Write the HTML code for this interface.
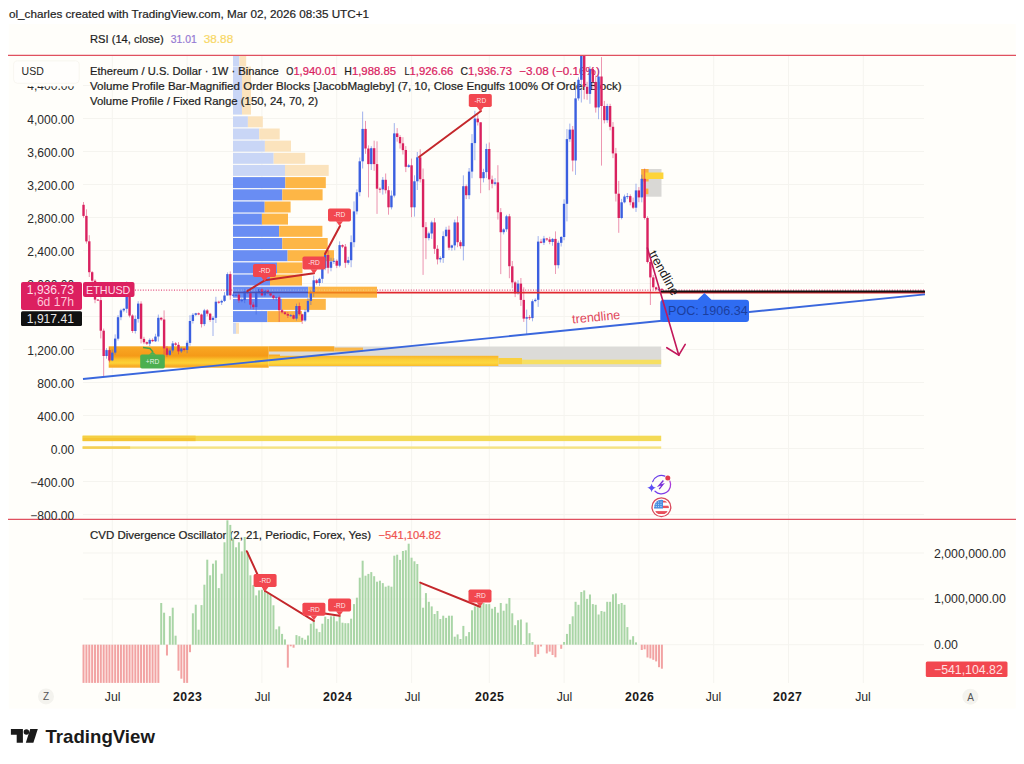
<!DOCTYPE html>
<html><head><meta charset="utf-8"><title>ETHUSD chart</title>
<style>
html,body{margin:0;padding:0;background:#fff;}
body{width:1024px;height:764px;position:relative;overflow:hidden;font-family:"Liberation Sans",sans-serif;}
svg{position:absolute;left:0;top:0;}
svg text{font-family:"Liberation Sans",sans-serif;}
</style></head><body>
<svg width="1024" height="764" viewBox="0 0 1024 764">
<rect x="8.7" y="24" width="1007" height="684.5" fill="#fffefa"/>
<!-- header -->
<text x="9" y="18.4" font-size="11.4" fill="#1e1e1e" stroke="#1e1e1e" stroke-width="0.2" textLength="360" lengthAdjust="spacingAndGlyphs">ol_charles created with TradingView.com, Mar 02, 2026 08:35 UTC+1</text>
<!-- main pane -->
<clipPath id="mp"><rect x="83" y="56" width="842" height="463"/></clipPath>
<g id="gridandvp">
<line x1="112.3" y1="56" x2="112.3" y2="683" stroke="#f5f4ef" stroke-width="1"/>
<line x1="187.1" y1="56" x2="187.1" y2="683" stroke="#f5f4ef" stroke-width="1"/>
<line x1="261.9" y1="56" x2="261.9" y2="683" stroke="#f5f4ef" stroke-width="1"/>
<line x1="336.7" y1="56" x2="336.7" y2="683" stroke="#f5f4ef" stroke-width="1"/>
<line x1="411.6" y1="56" x2="411.6" y2="683" stroke="#f5f4ef" stroke-width="1"/>
<line x1="489.3" y1="56" x2="489.3" y2="683" stroke="#f5f4ef" stroke-width="1"/>
<line x1="564.1" y1="56" x2="564.1" y2="683" stroke="#f5f4ef" stroke-width="1"/>
<line x1="638.9" y1="56" x2="638.9" y2="683" stroke="#f5f4ef" stroke-width="1"/>
<line x1="713.7" y1="56" x2="713.7" y2="683" stroke="#f5f4ef" stroke-width="1"/>
<line x1="788.5" y1="56" x2="788.5" y2="683" stroke="#f5f4ef" stroke-width="1"/>
<line x1="863.3" y1="56" x2="863.3" y2="683" stroke="#f5f4ef" stroke-width="1"/>
<line x1="83" y1="85.5" x2="924" y2="85.5" stroke="#f5f4ef" stroke-width="1"/>
<line x1="83" y1="118.5" x2="924" y2="118.5" stroke="#f5f4ef" stroke-width="1"/>
<line x1="83" y1="151.5" x2="924" y2="151.5" stroke="#f5f4ef" stroke-width="1"/>
<line x1="83" y1="184.5" x2="924" y2="184.5" stroke="#f5f4ef" stroke-width="1"/>
<line x1="83" y1="217.5" x2="924" y2="217.5" stroke="#f5f4ef" stroke-width="1"/>
<line x1="83" y1="250.5" x2="924" y2="250.5" stroke="#f5f4ef" stroke-width="1"/>
<line x1="83" y1="283.5" x2="924" y2="283.5" stroke="#f5f4ef" stroke-width="1"/>
<line x1="83" y1="316.5" x2="924" y2="316.5" stroke="#f5f4ef" stroke-width="1"/>
<line x1="83" y1="349.5" x2="924" y2="349.5" stroke="#f5f4ef" stroke-width="1"/>
<line x1="83" y1="382.5" x2="924" y2="382.5" stroke="#f5f4ef" stroke-width="1"/>
<line x1="83" y1="415.5" x2="924" y2="415.5" stroke="#f5f4ef" stroke-width="1"/>
<line x1="83" y1="448.5" x2="924" y2="448.5" stroke="#f5f4ef" stroke-width="1"/>
<line x1="83" y1="481.5" x2="924" y2="481.5" stroke="#f5f4ef" stroke-width="1"/>
<line x1="83" y1="514.5" x2="924" y2="514.5" stroke="#f5f4ef" stroke-width="1"/>
<line x1="83" y1="553" x2="924" y2="553" stroke="#f5f4ef" stroke-width="1"/>
<line x1="83" y1="599" x2="924" y2="599" stroke="#f5f4ef" stroke-width="1"/>
<line x1="83" y1="644.7" x2="924" y2="644.7" stroke="#f5f4ef" stroke-width="1"/>
<rect x="233" y="56" width="6.4" height="10.2" fill="#c9d6f6"/>
<rect x="239.4" y="56" width="6.8" height="10.2" fill="#fbe3bd"/>
<rect x="233" y="116.3" width="14.9" height="11" fill="#c9d6f6"/>
<rect x="247.9" y="116.3" width="14.9" height="11" fill="#fbe3bd"/>
<rect x="233" y="128.5" width="26.2" height="11" fill="#c9d6f6"/>
<rect x="259.2" y="128.5" width="20.5" height="11" fill="#fbe3bd"/>
<rect x="233" y="140.6" width="31.9" height="11" fill="#c9d6f6"/>
<rect x="264.9" y="140.6" width="26.1" height="11" fill="#fbe3bd"/>
<rect x="233" y="152.8" width="40.7" height="11" fill="#c9d6f6"/>
<rect x="273.7" y="152.8" width="31.5" height="11" fill="#fbe3bd"/>
<rect x="233" y="164.9" width="52.0" height="11" fill="#c9d6f6"/>
<rect x="285.0" y="164.9" width="43.7" height="11" fill="#fbe3bd"/>
<rect x="233" y="177.1" width="52.3" height="11" fill="#698df3"/>
<rect x="285.3" y="177.1" width="40.5" height="11" fill="#fdb646"/>
<rect x="233" y="189.3" width="49.3" height="11" fill="#698df3"/>
<rect x="282.3" y="189.3" width="40.3" height="11" fill="#fdb646"/>
<rect x="233" y="201.5" width="31.7" height="11" fill="#698df3"/>
<rect x="264.7" y="201.5" width="25.9" height="11" fill="#fdb646"/>
<rect x="233" y="213.6" width="28.9" height="11" fill="#698df3"/>
<rect x="261.9" y="213.6" width="26.1" height="11" fill="#fdb646"/>
<rect x="233" y="225.8" width="46.1" height="11" fill="#698df3"/>
<rect x="279.1" y="225.8" width="43.3" height="11" fill="#fdb646"/>
<rect x="233" y="238.0" width="49.3" height="11" fill="#698df3"/>
<rect x="282.3" y="238.0" width="45.4" height="11" fill="#fdb646"/>
<rect x="233" y="250.2" width="54.6" height="11" fill="#698df3"/>
<rect x="287.6" y="250.2" width="46.4" height="11" fill="#fdb646"/>
<rect x="233" y="262.4" width="44.0" height="11" fill="#698df3"/>
<rect x="277.0" y="262.4" width="25.5" height="11" fill="#fdb646"/>
<rect x="233" y="274.5" width="37.0" height="11" fill="#698df3"/>
<rect x="270.0" y="274.5" width="32.0" height="11" fill="#fdb646"/>
<rect x="233" y="286.7" width="75.2" height="11" fill="#698df3"/>
<rect x="308.2" y="286.7" width="68.8" height="11" fill="#fdb646"/>
<rect x="233" y="298.9" width="48.9" height="11" fill="#698df3"/>
<rect x="281.9" y="298.9" width="43.9" height="11" fill="#fdb646"/>
<rect x="233" y="311.1" width="34.4" height="11" fill="#698df3"/>
<rect x="267.4" y="311.1" width="34.6" height="11" fill="#fdb646"/>
<rect x="233" y="66.6" width="9" height="48" fill="#c9d6f6"/><rect x="242" y="66.6" width="9" height="48" fill="#fbe3bd"/>
<rect x="233" y="322.8" width="3" height="11" fill="#c9d6f6"/><rect x="236" y="322.8" width="3" height="11" fill="#fbe3bd"/>
<defs><linearGradient id="ob" x1="0" y1="0" x2="0" y2="1"><stop offset="0" stop-color="#f8a926"/><stop offset="0.22" stop-color="#f7a11e"/><stop offset="0.45" stop-color="#f59a18"/><stop offset="0.62" stop-color="#fbc22c"/><stop offset="0.78" stop-color="#fdd236"/><stop offset="0.9" stop-color="#f9b127"/><stop offset="1" stop-color="#f8a926"/></linearGradient><linearGradient id="yb" x1="0" y1="0" x2="0" y2="1"><stop offset="0" stop-color="#f9b52a"/><stop offset="0.4" stop-color="#fbd03a"/><stop offset="0.7" stop-color="#fdd83e"/><stop offset="1" stop-color="#f9bb2c"/></linearGradient></defs>
<rect x="268.7" y="346.5" width="392.5" height="20.5" fill="#dcdbd8"/>
<rect x="108.7" y="346.3" width="160" height="21.4" fill="url(#ob)"/>
<rect x="268.7" y="346.3" width="65.6" height="5.2" fill="#f8a926"/>
<rect x="334.3" y="347.6" width="28.7" height="3.9" fill="#f9b74a"/>
<rect x="268.7" y="354.5" width="11.3" height="4.2" fill="#f8a926"/>
<rect x="268.7" y="355.8" width="229.7" height="10.2" fill="url(#yb)"/>
<rect x="498.4" y="358" width="23.6" height="6.2" fill="#f9d040"/>
<rect x="522" y="359.7" width="139.2" height="4.5" fill="#f6df62"/>
<rect x="82.6" y="435.7" width="578.6" height="5.4" fill="#f4da55"/>
<rect x="82.6" y="437.6" width="113" height="3.5" fill="#f5c535"/>
<rect x="82.6" y="435.7" width="113" height="2" fill="#f5cf44"/>
<rect x="82.6" y="446.4" width="578.6" height="2.4" fill="#f6e384"/>
<rect x="82.6" y="446.4" width="47.5" height="2.4" fill="#f5cf55"/>
<rect x="641.2" y="169" width="20.3" height="27.7" fill="#d9d8d5"/>
<rect x="641.2" y="169" width="7.4" height="12.5" fill="#fbb03b"/>
<rect x="645.4" y="172.5" width="18" height="6.5" fill="#fdd43a"/>
<rect x="645.4" y="188.6" width="3" height="5.6" fill="#fbb03b"/>
</g>
<text x="90" y="43.0" font-size="11.3" fill="#1e1e1e" stroke="#1e1e1e" stroke-width="0.22" textLength="73.7" lengthAdjust="spacingAndGlyphs">RSI (14, close)</text><text x="170.8" y="43.0" font-size="11.3" fill="#9579d3" stroke="#9579d3" stroke-width="0.22" textLength="26.0" lengthAdjust="spacingAndGlyphs">31.01</text><text x="203.8" y="43.0" font-size="11.3" fill="#f8d866" stroke="#f8d866" stroke-width="0.22" textLength="29.4" lengthAdjust="spacingAndGlyphs">38.88</text><text x="90" y="74.5" font-size="11.3" fill="#1e1e1e" stroke="#1e1e1e" stroke-width="0.22" textLength="188.7" lengthAdjust="spacingAndGlyphs">Ethereum / U.S. Dollar · 1W · Binance</text><text x="286.3" y="74.5" font-size="11.3" fill="#1e1e1e" stroke="#1e1e1e" stroke-width="0.22" textLength="7.1" lengthAdjust="spacingAndGlyphs">O</text><text x="293.4" y="74.5" font-size="11.3" fill="#d9215f" stroke="#d9215f" stroke-width="0.22" textLength="43.6" lengthAdjust="spacingAndGlyphs">1,940.01</text><text x="344.2" y="74.5" font-size="11.3" fill="#1e1e1e" stroke="#1e1e1e" stroke-width="0.22" textLength="7.6" lengthAdjust="spacingAndGlyphs">H</text><text x="351.9" y="74.5" font-size="11.3" fill="#d9215f" stroke="#d9215f" stroke-width="0.22" textLength="44.2" lengthAdjust="spacingAndGlyphs">1,988.85</text><text x="404.4" y="74.5" font-size="11.3" fill="#1e1e1e" stroke="#1e1e1e" stroke-width="0.22" textLength="5.1" lengthAdjust="spacingAndGlyphs">L</text><text x="409.5" y="74.5" font-size="11.3" fill="#d9215f" stroke="#d9215f" stroke-width="0.22" textLength="43.9" lengthAdjust="spacingAndGlyphs">1,926.66</text><text x="460.6" y="74.5" font-size="11.3" fill="#1e1e1e" stroke="#1e1e1e" stroke-width="0.22" textLength="7.5" lengthAdjust="spacingAndGlyphs">C</text><text x="468.1" y="74.5" font-size="11.3" fill="#d9215f" stroke="#d9215f" stroke-width="0.22" textLength="43.9" lengthAdjust="spacingAndGlyphs">1,936.73</text><text x="519.2" y="74.5" font-size="11.3" fill="#d9215f" stroke="#d9215f" stroke-width="0.22" textLength="80.6" lengthAdjust="spacingAndGlyphs">−3.08 (−0.16%)</text><text x="90" y="89.6" font-size="11.3" fill="#1e1e1e" stroke="#1e1e1e" stroke-width="0.22" textLength="531.6" lengthAdjust="spacingAndGlyphs">Volume Profile Bar-Magnified Order Blocks [JacobMagleby] (7, 10, Close Engulfs 100% Of Order Block)</text><text x="90" y="105.2" font-size="11.3" fill="#1e1e1e" stroke="#1e1e1e" stroke-width="0.22" textLength="228.1" lengthAdjust="spacingAndGlyphs">Volume Profile / Fixed Range (150, 24, 70, 2)</text><text x="90" y="538.6" font-size="11.3" fill="#1e1e1e" stroke="#1e1e1e" stroke-width="0.22" textLength="281.0" lengthAdjust="spacingAndGlyphs">CVD Divergence Oscillator (2, 21, Periodic, Forex, Yes)</text><text x="378.5" y="538.6" font-size="11.3" fill="#ef5350" stroke="#ef5350" stroke-width="0.22" textLength="62.5" lengthAdjust="spacingAndGlyphs">−541,104.82</text>
<g id="candles">
<line x1="83.53" y1="202.0" x2="83.53" y2="217.7" stroke="#d9215f" stroke-width="0.8" opacity="0.6"/>
<rect x="82.33" y="204.8" width="2.4" height="11.1" fill="#d9215f"/>
<line x1="86.40" y1="209.3" x2="86.40" y2="243.6" stroke="#d9215f" stroke-width="0.8" opacity="0.6"/>
<rect x="85.20" y="215.9" width="2.4" height="25.5" fill="#d9215f"/>
<line x1="89.28" y1="235.2" x2="89.28" y2="277.0" stroke="#d9215f" stroke-width="0.8" opacity="0.6"/>
<rect x="88.08" y="241.3" width="2.4" height="30.9" fill="#d9215f"/>
<line x1="92.16" y1="271.1" x2="92.16" y2="283.4" stroke="#d9215f" stroke-width="0.8" opacity="0.6"/>
<rect x="90.96" y="272.2" width="2.4" height="8.5" fill="#d9215f"/>
<line x1="95.03" y1="279.3" x2="95.03" y2="303.2" stroke="#d9215f" stroke-width="0.8" opacity="0.6"/>
<rect x="93.83" y="280.7" width="2.4" height="18.9" fill="#d9215f"/>
<line x1="97.91" y1="299.0" x2="97.91" y2="300.7" stroke="#d9215f" stroke-width="0.8" opacity="0.6"/>
<rect x="96.71" y="299.6" width="2.4" height="1.0" fill="#d9215f"/>
<line x1="100.79" y1="295.3" x2="100.79" y2="338.4" stroke="#d9215f" stroke-width="0.8" opacity="0.6"/>
<rect x="99.59" y="300.1" width="2.4" height="30.6" fill="#d9215f"/>
<line x1="103.67" y1="328.6" x2="103.67" y2="376.4" stroke="#d9215f" stroke-width="0.8" opacity="0.6"/>
<rect x="102.47" y="330.7" width="2.4" height="25.3" fill="#d9215f"/>
<line x1="106.55" y1="348.1" x2="106.55" y2="358.7" stroke="#3b5fe0" stroke-width="0.8" opacity="0.6"/>
<rect x="105.34" y="350.1" width="2.4" height="5.9" fill="#3b5fe0"/>
<line x1="109.42" y1="347.6" x2="109.42" y2="362.4" stroke="#d9215f" stroke-width="0.8" opacity="0.6"/>
<rect x="108.22" y="350.1" width="2.4" height="10.4" fill="#d9215f"/>
<line x1="112.30" y1="349.5" x2="112.30" y2="361.2" stroke="#3b5fe0" stroke-width="0.8" opacity="0.6"/>
<rect x="111.10" y="352.6" width="2.4" height="7.8" fill="#3b5fe0"/>
<line x1="115.18" y1="334.4" x2="115.18" y2="354.6" stroke="#3b5fe0" stroke-width="0.8" opacity="0.6"/>
<rect x="113.98" y="338.6" width="2.4" height="14.0" fill="#3b5fe0"/>
<line x1="118.05" y1="315.1" x2="118.05" y2="340.5" stroke="#3b5fe0" stroke-width="0.8" opacity="0.6"/>
<rect x="116.85" y="317.2" width="2.4" height="21.5" fill="#3b5fe0"/>
<line x1="120.93" y1="308.8" x2="120.93" y2="320.2" stroke="#3b5fe0" stroke-width="0.8" opacity="0.6"/>
<rect x="119.73" y="310.4" width="2.4" height="6.8" fill="#3b5fe0"/>
<line x1="123.81" y1="307.9" x2="123.81" y2="312.1" stroke="#3b5fe0" stroke-width="0.8" opacity="0.6"/>
<rect x="122.61" y="308.8" width="2.4" height="1.6" fill="#3b5fe0"/>
<line x1="126.69" y1="281.5" x2="126.69" y2="312.9" stroke="#3b5fe0" stroke-width="0.8" opacity="0.6"/>
<rect x="125.49" y="289.4" width="2.4" height="19.4" fill="#3b5fe0"/>
<line x1="129.56" y1="284.2" x2="129.56" y2="317.4" stroke="#d9215f" stroke-width="0.8" opacity="0.6"/>
<rect x="128.37" y="289.4" width="2.4" height="26.2" fill="#d9215f"/>
<line x1="132.44" y1="314.3" x2="132.44" y2="332.9" stroke="#d9215f" stroke-width="0.8" opacity="0.6"/>
<rect x="131.24" y="315.5" width="2.4" height="15.5" fill="#d9215f"/>
<line x1="135.32" y1="315.4" x2="135.32" y2="333.5" stroke="#3b5fe0" stroke-width="0.8" opacity="0.6"/>
<rect x="134.12" y="318.9" width="2.4" height="12.1" fill="#3b5fe0"/>
<line x1="138.20" y1="301.2" x2="138.20" y2="322.6" stroke="#3b5fe0" stroke-width="0.8" opacity="0.6"/>
<rect x="137.00" y="303.6" width="2.4" height="15.3" fill="#3b5fe0"/>
<line x1="141.07" y1="301.3" x2="141.07" y2="343.4" stroke="#d9215f" stroke-width="0.8" opacity="0.6"/>
<rect x="139.88" y="303.6" width="2.4" height="35.2" fill="#d9215f"/>
<line x1="143.95" y1="336.8" x2="143.95" y2="344.1" stroke="#d9215f" stroke-width="0.8" opacity="0.6"/>
<rect x="142.75" y="338.9" width="2.4" height="3.4" fill="#d9215f"/>
<line x1="146.83" y1="341.5" x2="146.83" y2="345.0" stroke="#d9215f" stroke-width="0.8" opacity="0.6"/>
<rect x="145.63" y="342.2" width="2.4" height="1.5" fill="#d9215f"/>
<line x1="149.71" y1="338.4" x2="149.71" y2="346.0" stroke="#3b5fe0" stroke-width="0.8" opacity="0.6"/>
<rect x="148.51" y="339.9" width="2.4" height="3.8" fill="#3b5fe0"/>
<line x1="152.58" y1="338.4" x2="152.58" y2="342.1" stroke="#d9215f" stroke-width="0.8" opacity="0.6"/>
<rect x="151.38" y="339.9" width="2.4" height="1.3" fill="#d9215f"/>
<line x1="155.46" y1="333.8" x2="155.46" y2="342.0" stroke="#3b5fe0" stroke-width="0.8" opacity="0.6"/>
<rect x="154.26" y="336.6" width="2.4" height="4.7" fill="#3b5fe0"/>
<line x1="158.34" y1="314.6" x2="158.34" y2="341.5" stroke="#3b5fe0" stroke-width="0.8" opacity="0.6"/>
<rect x="157.14" y="317.8" width="2.4" height="18.7" fill="#3b5fe0"/>
<line x1="161.22" y1="317.1" x2="161.22" y2="320.9" stroke="#d9215f" stroke-width="0.8" opacity="0.6"/>
<rect x="160.02" y="317.8" width="2.4" height="1.7" fill="#d9215f"/>
<line x1="164.09" y1="310.4" x2="164.09" y2="360.7" stroke="#d9215f" stroke-width="0.8" opacity="0.6"/>
<rect x="162.90" y="319.5" width="2.4" height="28.9" fill="#d9215f"/>
<line x1="166.97" y1="346.0" x2="166.97" y2="356.7" stroke="#d9215f" stroke-width="0.8" opacity="0.6"/>
<rect x="165.77" y="348.4" width="2.4" height="6.4" fill="#d9215f"/>
<line x1="169.85" y1="348.3" x2="169.85" y2="355.9" stroke="#3b5fe0" stroke-width="0.8" opacity="0.6"/>
<rect x="168.65" y="350.5" width="2.4" height="4.3" fill="#3b5fe0"/>
<line x1="172.73" y1="341.0" x2="172.73" y2="352.6" stroke="#3b5fe0" stroke-width="0.8" opacity="0.6"/>
<rect x="171.53" y="343.4" width="2.4" height="7.1" fill="#3b5fe0"/>
<line x1="175.60" y1="342.1" x2="175.60" y2="345.9" stroke="#d9215f" stroke-width="0.8" opacity="0.6"/>
<rect x="174.41" y="343.4" width="2.4" height="1.4" fill="#d9215f"/>
<line x1="178.48" y1="342.1" x2="178.48" y2="354.3" stroke="#d9215f" stroke-width="0.8" opacity="0.6"/>
<rect x="177.28" y="344.8" width="2.4" height="6.6" fill="#d9215f"/>
<line x1="181.36" y1="347.3" x2="181.36" y2="353.0" stroke="#3b5fe0" stroke-width="0.8" opacity="0.6"/>
<rect x="180.16" y="348.5" width="2.4" height="2.9" fill="#3b5fe0"/>
<line x1="184.24" y1="348.1" x2="184.24" y2="351.4" stroke="#d9215f" stroke-width="0.8" opacity="0.6"/>
<rect x="183.04" y="348.5" width="2.4" height="1.5" fill="#d9215f"/>
<line x1="187.12" y1="340.5" x2="187.12" y2="353.2" stroke="#3b5fe0" stroke-width="0.8" opacity="0.6"/>
<rect x="185.92" y="342.8" width="2.4" height="7.2" fill="#3b5fe0"/>
<line x1="189.99" y1="315.2" x2="189.99" y2="345.6" stroke="#3b5fe0" stroke-width="0.8" opacity="0.6"/>
<rect x="188.79" y="321.0" width="2.4" height="21.9" fill="#3b5fe0"/>
<line x1="192.87" y1="313.1" x2="192.87" y2="323.5" stroke="#3b5fe0" stroke-width="0.8" opacity="0.6"/>
<rect x="191.67" y="314.8" width="2.4" height="6.2" fill="#3b5fe0"/>
<line x1="195.75" y1="312.8" x2="195.75" y2="316.1" stroke="#3b5fe0" stroke-width="0.8" opacity="0.6"/>
<rect x="194.55" y="313.3" width="2.4" height="1.5" fill="#3b5fe0"/>
<line x1="198.62" y1="312.5" x2="198.62" y2="315.2" stroke="#d9215f" stroke-width="0.8" opacity="0.6"/>
<rect x="197.43" y="313.3" width="2.4" height="1.2" fill="#d9215f"/>
<line x1="201.50" y1="313.6" x2="201.50" y2="327.5" stroke="#d9215f" stroke-width="0.8" opacity="0.6"/>
<rect x="200.30" y="314.5" width="2.4" height="9.6" fill="#d9215f"/>
<line x1="204.38" y1="308.9" x2="204.38" y2="326.1" stroke="#3b5fe0" stroke-width="0.8" opacity="0.6"/>
<rect x="203.18" y="310.4" width="2.4" height="13.7" fill="#3b5fe0"/>
<line x1="207.26" y1="309.0" x2="207.26" y2="316.3" stroke="#d9215f" stroke-width="0.8" opacity="0.6"/>
<rect x="206.06" y="310.4" width="2.4" height="3.3" fill="#d9215f"/>
<line x1="210.13" y1="312.8" x2="210.13" y2="321.9" stroke="#d9215f" stroke-width="0.8" opacity="0.6"/>
<rect x="208.94" y="313.7" width="2.4" height="6.3" fill="#d9215f"/>
<line x1="213.01" y1="316.2" x2="213.01" y2="336.0" stroke="#3b5fe0" stroke-width="0.8" opacity="0.6"/>
<rect x="211.81" y="317.8" width="2.4" height="2.1" fill="#3b5fe0"/>
<line x1="215.89" y1="296.8" x2="215.89" y2="323.0" stroke="#3b5fe0" stroke-width="0.8" opacity="0.6"/>
<rect x="214.69" y="301.7" width="2.4" height="16.1" fill="#3b5fe0"/>
<line x1="218.77" y1="300.7" x2="218.77" y2="303.8" stroke="#d9215f" stroke-width="0.8" opacity="0.6"/>
<rect x="217.57" y="301.7" width="2.4" height="1.0" fill="#d9215f"/>
<line x1="221.64" y1="299.7" x2="221.64" y2="305.0" stroke="#3b5fe0" stroke-width="0.8" opacity="0.6"/>
<rect x="220.44" y="300.9" width="2.4" height="1.6" fill="#3b5fe0"/>
<line x1="224.52" y1="292.1" x2="224.52" y2="302.0" stroke="#3b5fe0" stroke-width="0.8" opacity="0.6"/>
<rect x="223.32" y="295.5" width="2.4" height="5.4" fill="#3b5fe0"/>
<line x1="227.40" y1="272.4" x2="227.40" y2="295.5" stroke="#3b5fe0" stroke-width="0.8" opacity="0.6"/>
<rect x="226.20" y="274.1" width="2.4" height="21.4" fill="#3b5fe0"/>
<line x1="230.28" y1="271.4" x2="230.28" y2="299.7" stroke="#d9215f" stroke-width="0.8" opacity="0.6"/>
<rect x="229.08" y="274.1" width="2.4" height="21.3" fill="#d9215f"/>
<line x1="233.16" y1="293.1" x2="233.16" y2="296.4" stroke="#3b5fe0" stroke-width="0.8" opacity="0.6"/>
<rect x="231.96" y="294.7" width="2.4" height="1.0" fill="#3b5fe0"/>
<line x1="236.03" y1="294.3" x2="236.03" y2="296.0" stroke="#3b5fe0" stroke-width="0.8" opacity="0.6"/>
<rect x="234.83" y="294.7" width="2.4" height="1.0" fill="#3b5fe0"/>
<line x1="238.91" y1="293.0" x2="238.91" y2="302.9" stroke="#d9215f" stroke-width="0.8" opacity="0.6"/>
<rect x="237.71" y="294.7" width="2.4" height="5.8" fill="#d9215f"/>
<line x1="241.79" y1="297.8" x2="241.79" y2="302.3" stroke="#3b5fe0" stroke-width="0.8" opacity="0.6"/>
<rect x="240.59" y="300.1" width="2.4" height="1.0" fill="#3b5fe0"/>
<line x1="244.67" y1="288.8" x2="244.67" y2="303.1" stroke="#3b5fe0" stroke-width="0.8" opacity="0.6"/>
<rect x="243.47" y="291.4" width="2.4" height="8.7" fill="#3b5fe0"/>
<line x1="247.54" y1="289.4" x2="247.54" y2="293.7" stroke="#d9215f" stroke-width="0.8" opacity="0.6"/>
<rect x="246.34" y="291.4" width="2.4" height="1.7" fill="#d9215f"/>
<line x1="250.42" y1="288.5" x2="250.42" y2="308.7" stroke="#d9215f" stroke-width="0.8" opacity="0.6"/>
<rect x="249.22" y="293.1" width="2.4" height="11.6" fill="#d9215f"/>
<line x1="253.30" y1="302.1" x2="253.30" y2="309.4" stroke="#d9215f" stroke-width="0.8" opacity="0.6"/>
<rect x="252.10" y="304.6" width="2.4" height="2.5" fill="#d9215f"/>
<line x1="256.18" y1="289.8" x2="256.18" y2="314.5" stroke="#3b5fe0" stroke-width="0.8" opacity="0.6"/>
<rect x="254.98" y="292.2" width="2.4" height="14.9" fill="#3b5fe0"/>
<line x1="259.05" y1="288.4" x2="259.05" y2="294.4" stroke="#3b5fe0" stroke-width="0.8" opacity="0.6"/>
<rect x="257.85" y="289.2" width="2.4" height="3.1" fill="#3b5fe0"/>
<line x1="261.93" y1="288.3" x2="261.93" y2="296.3" stroke="#d9215f" stroke-width="0.8" opacity="0.6"/>
<rect x="260.73" y="289.2" width="2.4" height="6.2" fill="#d9215f"/>
<line x1="264.81" y1="289.2" x2="264.81" y2="296.5" stroke="#3b5fe0" stroke-width="0.8" opacity="0.6"/>
<rect x="263.61" y="290.4" width="2.4" height="4.9" fill="#3b5fe0"/>
<line x1="267.69" y1="289.0" x2="267.69" y2="293.9" stroke="#d9215f" stroke-width="0.8" opacity="0.6"/>
<rect x="266.49" y="290.4" width="2.4" height="2.8" fill="#d9215f"/>
<line x1="270.56" y1="292.7" x2="270.56" y2="296.4" stroke="#d9215f" stroke-width="0.8" opacity="0.6"/>
<rect x="269.36" y="293.2" width="2.4" height="2.3" fill="#d9215f"/>
<line x1="273.44" y1="294.8" x2="273.44" y2="299.7" stroke="#d9215f" stroke-width="0.8" opacity="0.6"/>
<rect x="272.24" y="295.5" width="2.4" height="2.7" fill="#d9215f"/>
<line x1="276.32" y1="296.7" x2="276.32" y2="300.6" stroke="#3b5fe0" stroke-width="0.8" opacity="0.6"/>
<rect x="275.12" y="297.2" width="2.4" height="1.1" fill="#3b5fe0"/>
<line x1="279.19" y1="295.5" x2="279.19" y2="321.9" stroke="#d9215f" stroke-width="0.8" opacity="0.6"/>
<rect x="278.00" y="297.2" width="2.4" height="13.0" fill="#d9215f"/>
<line x1="282.07" y1="309.1" x2="282.07" y2="313.5" stroke="#d9215f" stroke-width="0.8" opacity="0.6"/>
<rect x="280.87" y="310.2" width="2.4" height="2.1" fill="#d9215f"/>
<line x1="284.95" y1="311.1" x2="284.95" y2="314.8" stroke="#d9215f" stroke-width="0.8" opacity="0.6"/>
<rect x="283.75" y="312.3" width="2.4" height="1.8" fill="#d9215f"/>
<line x1="287.83" y1="312.0" x2="287.83" y2="318.0" stroke="#d9215f" stroke-width="0.8" opacity="0.6"/>
<rect x="286.63" y="314.1" width="2.4" height="1.5" fill="#d9215f"/>
<line x1="290.70" y1="314.0" x2="290.70" y2="316.8" stroke="#3b5fe0" stroke-width="0.8" opacity="0.6"/>
<rect x="289.50" y="315.2" width="2.4" height="1.0" fill="#3b5fe0"/>
<line x1="293.58" y1="314.5" x2="293.58" y2="319.4" stroke="#d9215f" stroke-width="0.8" opacity="0.6"/>
<rect x="292.38" y="315.2" width="2.4" height="3.5" fill="#d9215f"/>
<line x1="296.46" y1="303.7" x2="296.46" y2="320.6" stroke="#3b5fe0" stroke-width="0.8" opacity="0.6"/>
<rect x="295.26" y="306.0" width="2.4" height="12.6" fill="#3b5fe0"/>
<line x1="299.34" y1="302.6" x2="299.34" y2="315.5" stroke="#d9215f" stroke-width="0.8" opacity="0.6"/>
<rect x="298.14" y="306.0" width="2.4" height="8.2" fill="#d9215f"/>
<line x1="302.21" y1="313.6" x2="302.21" y2="323.9" stroke="#d9215f" stroke-width="0.8" opacity="0.6"/>
<rect x="301.01" y="314.3" width="2.4" height="6.3" fill="#d9215f"/>
<line x1="305.09" y1="309.3" x2="305.09" y2="321.8" stroke="#3b5fe0" stroke-width="0.8" opacity="0.6"/>
<rect x="303.89" y="311.8" width="2.4" height="8.7" fill="#3b5fe0"/>
<line x1="307.97" y1="298.0" x2="307.97" y2="312.8" stroke="#3b5fe0" stroke-width="0.8" opacity="0.6"/>
<rect x="306.77" y="300.9" width="2.4" height="10.9" fill="#3b5fe0"/>
<line x1="310.85" y1="290.3" x2="310.85" y2="305.0" stroke="#3b5fe0" stroke-width="0.8" opacity="0.6"/>
<rect x="309.65" y="292.8" width="2.4" height="8.1" fill="#3b5fe0"/>
<line x1="313.72" y1="275.5" x2="313.72" y2="296.9" stroke="#3b5fe0" stroke-width="0.8" opacity="0.6"/>
<rect x="312.52" y="280.3" width="2.4" height="12.5" fill="#3b5fe0"/>
<line x1="316.60" y1="279.0" x2="316.60" y2="284.6" stroke="#d9215f" stroke-width="0.8" opacity="0.6"/>
<rect x="315.40" y="280.3" width="2.4" height="2.7" fill="#d9215f"/>
<line x1="319.48" y1="277.7" x2="319.48" y2="285.9" stroke="#3b5fe0" stroke-width="0.8" opacity="0.6"/>
<rect x="318.28" y="278.8" width="2.4" height="4.2" fill="#3b5fe0"/>
<line x1="322.36" y1="264.9" x2="322.36" y2="283.0" stroke="#3b5fe0" stroke-width="0.8" opacity="0.6"/>
<rect x="321.16" y="268.1" width="2.4" height="10.7" fill="#3b5fe0"/>
<line x1="325.24" y1="252.3" x2="325.24" y2="270.2" stroke="#3b5fe0" stroke-width="0.8" opacity="0.6"/>
<rect x="324.04" y="255.0" width="2.4" height="13.1" fill="#3b5fe0"/>
<line x1="328.11" y1="250.1" x2="328.11" y2="273.5" stroke="#d9215f" stroke-width="0.8" opacity="0.6"/>
<rect x="326.91" y="255.0" width="2.4" height="12.8" fill="#d9215f"/>
<line x1="330.99" y1="257.8" x2="330.99" y2="271.3" stroke="#3b5fe0" stroke-width="0.8" opacity="0.6"/>
<rect x="329.79" y="261.6" width="2.4" height="6.2" fill="#3b5fe0"/>
<line x1="333.87" y1="258.2" x2="333.87" y2="264.0" stroke="#3b5fe0" stroke-width="0.8" opacity="0.6"/>
<rect x="332.67" y="260.8" width="2.4" height="1.0" fill="#3b5fe0"/>
<line x1="336.75" y1="259.4" x2="336.75" y2="268.1" stroke="#d9215f" stroke-width="0.8" opacity="0.6"/>
<rect x="335.55" y="260.8" width="2.4" height="4.9" fill="#d9215f"/>
<line x1="339.62" y1="241.4" x2="339.62" y2="267.3" stroke="#3b5fe0" stroke-width="0.8" opacity="0.6"/>
<rect x="338.42" y="245.1" width="2.4" height="20.6" fill="#3b5fe0"/>
<line x1="342.50" y1="244.3" x2="342.50" y2="248.1" stroke="#d9215f" stroke-width="0.8" opacity="0.6"/>
<rect x="341.30" y="245.1" width="2.4" height="1.6" fill="#d9215f"/>
<line x1="345.38" y1="244.0" x2="345.38" y2="267.8" stroke="#d9215f" stroke-width="0.8" opacity="0.6"/>
<rect x="344.18" y="246.6" width="2.4" height="16.2" fill="#d9215f"/>
<line x1="348.25" y1="256.8" x2="348.25" y2="264.7" stroke="#3b5fe0" stroke-width="0.8" opacity="0.6"/>
<rect x="347.06" y="260.2" width="2.4" height="2.6" fill="#3b5fe0"/>
<line x1="351.13" y1="235.4" x2="351.13" y2="267.2" stroke="#3b5fe0" stroke-width="0.8" opacity="0.6"/>
<rect x="349.93" y="242.2" width="2.4" height="18.0" fill="#3b5fe0"/>
<line x1="354.01" y1="201.4" x2="354.01" y2="247.2" stroke="#3b5fe0" stroke-width="0.8" opacity="0.6"/>
<rect x="352.81" y="211.4" width="2.4" height="30.8" fill="#3b5fe0"/>
<line x1="356.89" y1="189.3" x2="356.89" y2="214.4" stroke="#3b5fe0" stroke-width="0.8" opacity="0.6"/>
<rect x="355.69" y="192.3" width="2.4" height="19.1" fill="#3b5fe0"/>
<line x1="359.76" y1="157.5" x2="359.76" y2="196.2" stroke="#3b5fe0" stroke-width="0.8" opacity="0.6"/>
<rect x="358.56" y="161.3" width="2.4" height="30.9" fill="#3b5fe0"/>
<line x1="362.64" y1="111.6" x2="362.64" y2="168.5" stroke="#3b5fe0" stroke-width="0.8" opacity="0.6"/>
<rect x="361.44" y="128.9" width="2.4" height="32.4" fill="#3b5fe0"/>
<line x1="365.52" y1="120.9" x2="365.52" y2="153.8" stroke="#d9215f" stroke-width="0.8" opacity="0.6"/>
<rect x="364.32" y="128.9" width="2.4" height="19.6" fill="#d9215f"/>
<line x1="368.40" y1="145.4" x2="368.40" y2="197.4" stroke="#d9215f" stroke-width="0.8" opacity="0.6"/>
<rect x="367.20" y="148.5" width="2.4" height="15.6" fill="#d9215f"/>
<line x1="371.28" y1="146.2" x2="371.28" y2="170.0" stroke="#3b5fe0" stroke-width="0.8" opacity="0.6"/>
<rect x="370.08" y="148.2" width="2.4" height="15.9" fill="#3b5fe0"/>
<line x1="374.15" y1="140.7" x2="374.15" y2="170.8" stroke="#d9215f" stroke-width="0.8" opacity="0.6"/>
<rect x="372.95" y="148.2" width="2.4" height="15.9" fill="#d9215f"/>
<line x1="377.03" y1="141.3" x2="377.03" y2="213.9" stroke="#d9215f" stroke-width="0.8" opacity="0.6"/>
<rect x="375.83" y="164.1" width="2.4" height="24.6" fill="#d9215f"/>
<line x1="379.91" y1="187.4" x2="379.91" y2="192.8" stroke="#d9215f" stroke-width="0.8" opacity="0.6"/>
<rect x="378.71" y="188.7" width="2.4" height="1.0" fill="#d9215f"/>
<line x1="382.79" y1="177.0" x2="382.79" y2="194.6" stroke="#3b5fe0" stroke-width="0.8" opacity="0.6"/>
<rect x="381.59" y="179.8" width="2.4" height="9.6" fill="#3b5fe0"/>
<line x1="385.66" y1="173.5" x2="385.66" y2="193.5" stroke="#d9215f" stroke-width="0.8" opacity="0.6"/>
<rect x="384.46" y="179.8" width="2.4" height="10.4" fill="#d9215f"/>
<line x1="388.54" y1="186.2" x2="388.54" y2="214.7" stroke="#d9215f" stroke-width="0.8" opacity="0.6"/>
<rect x="387.34" y="190.2" width="2.4" height="17.1" fill="#d9215f"/>
<line x1="391.42" y1="190.5" x2="391.42" y2="209.4" stroke="#3b5fe0" stroke-width="0.8" opacity="0.6"/>
<rect x="390.22" y="195.6" width="2.4" height="11.7" fill="#3b5fe0"/>
<line x1="394.30" y1="123.1" x2="394.30" y2="197.4" stroke="#3b5fe0" stroke-width="0.8" opacity="0.6"/>
<rect x="393.10" y="133.4" width="2.4" height="62.2" fill="#3b5fe0"/>
<line x1="397.17" y1="128.1" x2="397.17" y2="141.7" stroke="#d9215f" stroke-width="0.8" opacity="0.6"/>
<rect x="395.97" y="133.4" width="2.4" height="3.6" fill="#d9215f"/>
<line x1="400.05" y1="135.1" x2="400.05" y2="148.6" stroke="#d9215f" stroke-width="0.8" opacity="0.6"/>
<rect x="398.85" y="137.0" width="2.4" height="6.3" fill="#d9215f"/>
<line x1="402.93" y1="137.2" x2="402.93" y2="154.5" stroke="#d9215f" stroke-width="0.8" opacity="0.6"/>
<rect x="401.73" y="143.3" width="2.4" height="6.8" fill="#d9215f"/>
<line x1="405.81" y1="146.1" x2="405.81" y2="172.1" stroke="#d9215f" stroke-width="0.8" opacity="0.6"/>
<rect x="404.61" y="150.0" width="2.4" height="16.8" fill="#d9215f"/>
<line x1="408.68" y1="163.9" x2="408.68" y2="167.8" stroke="#3b5fe0" stroke-width="0.8" opacity="0.6"/>
<rect x="407.48" y="165.3" width="2.4" height="1.6" fill="#3b5fe0"/>
<line x1="411.56" y1="158.6" x2="411.56" y2="217.2" stroke="#d9215f" stroke-width="0.8" opacity="0.6"/>
<rect x="410.36" y="165.3" width="2.4" height="42.0" fill="#d9215f"/>
<line x1="414.44" y1="175.3" x2="414.44" y2="216.6" stroke="#3b5fe0" stroke-width="0.8" opacity="0.6"/>
<rect x="413.24" y="181.3" width="2.4" height="26.0" fill="#3b5fe0"/>
<line x1="417.31" y1="152.0" x2="417.31" y2="190.0" stroke="#3b5fe0" stroke-width="0.8" opacity="0.6"/>
<rect x="416.12" y="157.3" width="2.4" height="24.0" fill="#3b5fe0"/>
<line x1="420.19" y1="149.3" x2="420.19" y2="182.5" stroke="#d9215f" stroke-width="0.8" opacity="0.6"/>
<rect x="418.99" y="157.3" width="2.4" height="21.9" fill="#d9215f"/>
<line x1="423.07" y1="168.5" x2="423.07" y2="274.9" stroke="#d9215f" stroke-width="0.8" opacity="0.6"/>
<rect x="421.87" y="179.2" width="2.4" height="48.0" fill="#d9215f"/>
<line x1="425.95" y1="222.1" x2="425.95" y2="259.2" stroke="#d9215f" stroke-width="0.8" opacity="0.6"/>
<rect x="424.75" y="227.2" width="2.4" height="10.9" fill="#d9215f"/>
<line x1="428.82" y1="231.7" x2="428.82" y2="240.4" stroke="#3b5fe0" stroke-width="0.8" opacity="0.6"/>
<rect x="427.62" y="233.4" width="2.4" height="4.7" fill="#3b5fe0"/>
<line x1="431.70" y1="220.7" x2="431.70" y2="238.9" stroke="#3b5fe0" stroke-width="0.8" opacity="0.6"/>
<rect x="430.50" y="222.4" width="2.4" height="11.1" fill="#3b5fe0"/>
<line x1="434.58" y1="218.0" x2="434.58" y2="253.9" stroke="#d9215f" stroke-width="0.8" opacity="0.6"/>
<rect x="433.38" y="222.4" width="2.4" height="26.4" fill="#d9215f"/>
<line x1="437.46" y1="245.2" x2="437.46" y2="264.4" stroke="#d9215f" stroke-width="0.8" opacity="0.6"/>
<rect x="436.26" y="248.8" width="2.4" height="10.6" fill="#d9215f"/>
<line x1="440.33" y1="256.2" x2="440.33" y2="262.5" stroke="#3b5fe0" stroke-width="0.8" opacity="0.6"/>
<rect x="439.13" y="257.9" width="2.4" height="1.5" fill="#3b5fe0"/>
<line x1="443.21" y1="231.3" x2="443.21" y2="262.9" stroke="#3b5fe0" stroke-width="0.8" opacity="0.6"/>
<rect x="442.01" y="236.1" width="2.4" height="21.9" fill="#3b5fe0"/>
<line x1="446.09" y1="226.8" x2="446.09" y2="237.0" stroke="#3b5fe0" stroke-width="0.8" opacity="0.6"/>
<rect x="444.89" y="229.7" width="2.4" height="6.4" fill="#3b5fe0"/>
<line x1="448.97" y1="225.7" x2="448.97" y2="250.1" stroke="#d9215f" stroke-width="0.8" opacity="0.6"/>
<rect x="447.77" y="229.7" width="2.4" height="18.0" fill="#d9215f"/>
<line x1="451.85" y1="244.7" x2="451.85" y2="250.7" stroke="#3b5fe0" stroke-width="0.8" opacity="0.6"/>
<rect x="450.65" y="245.4" width="2.4" height="2.3" fill="#3b5fe0"/>
<line x1="454.72" y1="219.6" x2="454.72" y2="250.3" stroke="#3b5fe0" stroke-width="0.8" opacity="0.6"/>
<rect x="453.52" y="222.4" width="2.4" height="23.0" fill="#3b5fe0"/>
<line x1="457.60" y1="216.3" x2="457.60" y2="247.2" stroke="#d9215f" stroke-width="0.8" opacity="0.6"/>
<rect x="456.40" y="222.4" width="2.4" height="19.8" fill="#d9215f"/>
<line x1="460.48" y1="240.3" x2="460.48" y2="248.7" stroke="#d9215f" stroke-width="0.8" opacity="0.6"/>
<rect x="459.28" y="242.2" width="2.4" height="4.0" fill="#d9215f"/>
<line x1="463.36" y1="175.3" x2="463.36" y2="260.4" stroke="#3b5fe0" stroke-width="0.8" opacity="0.6"/>
<rect x="462.16" y="186.2" width="2.4" height="60.0" fill="#3b5fe0"/>
<line x1="466.23" y1="184.6" x2="466.23" y2="199.1" stroke="#d9215f" stroke-width="0.8" opacity="0.6"/>
<rect x="465.03" y="186.2" width="2.4" height="9.0" fill="#d9215f"/>
<line x1="469.11" y1="168.0" x2="469.11" y2="199.1" stroke="#3b5fe0" stroke-width="0.8" opacity="0.6"/>
<rect x="467.91" y="171.6" width="2.4" height="23.6" fill="#3b5fe0"/>
<line x1="471.99" y1="134.1" x2="471.99" y2="178.2" stroke="#3b5fe0" stroke-width="0.8" opacity="0.6"/>
<rect x="470.79" y="143.1" width="2.4" height="28.5" fill="#3b5fe0"/>
<line x1="474.87" y1="110.8" x2="474.87" y2="160.2" stroke="#3b5fe0" stroke-width="0.8" opacity="0.6"/>
<rect x="473.67" y="118.6" width="2.4" height="24.5" fill="#3b5fe0"/>
<line x1="477.74" y1="113.1" x2="477.74" y2="125.5" stroke="#d9215f" stroke-width="0.8" opacity="0.6"/>
<rect x="476.54" y="118.6" width="2.4" height="3.7" fill="#d9215f"/>
<line x1="480.62" y1="122.3" x2="480.62" y2="193.2" stroke="#d9215f" stroke-width="0.8" opacity="0.6"/>
<rect x="479.42" y="122.3" width="2.4" height="55.9" fill="#d9215f"/>
<line x1="483.50" y1="168.8" x2="483.50" y2="182.4" stroke="#3b5fe0" stroke-width="0.8" opacity="0.6"/>
<rect x="482.30" y="172.1" width="2.4" height="6.1" fill="#3b5fe0"/>
<line x1="486.38" y1="143.7" x2="486.38" y2="178.1" stroke="#3b5fe0" stroke-width="0.8" opacity="0.6"/>
<rect x="485.18" y="149.0" width="2.4" height="23.1" fill="#3b5fe0"/>
<line x1="489.25" y1="142.5" x2="489.25" y2="190.2" stroke="#d9215f" stroke-width="0.8" opacity="0.6"/>
<rect x="488.05" y="149.0" width="2.4" height="30.4" fill="#d9215f"/>
<line x1="492.13" y1="175.6" x2="492.13" y2="188.3" stroke="#d9215f" stroke-width="0.8" opacity="0.6"/>
<rect x="490.93" y="179.5" width="2.4" height="4.3" fill="#d9215f"/>
<line x1="495.01" y1="178.2" x2="495.01" y2="185.5" stroke="#3b5fe0" stroke-width="0.8" opacity="0.6"/>
<rect x="493.81" y="182.4" width="2.4" height="1.4" fill="#3b5fe0"/>
<line x1="497.88" y1="165.2" x2="497.88" y2="219.6" stroke="#d9215f" stroke-width="0.8" opacity="0.6"/>
<rect x="496.69" y="182.4" width="2.4" height="29.9" fill="#d9215f"/>
<line x1="500.76" y1="208.1" x2="500.76" y2="274.1" stroke="#d9215f" stroke-width="0.8" opacity="0.6"/>
<rect x="499.56" y="212.2" width="2.4" height="20.0" fill="#d9215f"/>
<line x1="503.64" y1="228.3" x2="503.64" y2="234.4" stroke="#3b5fe0" stroke-width="0.8" opacity="0.6"/>
<rect x="502.44" y="229.4" width="2.4" height="2.8" fill="#3b5fe0"/>
<line x1="506.52" y1="214.8" x2="506.52" y2="231.8" stroke="#3b5fe0" stroke-width="0.8" opacity="0.6"/>
<rect x="505.32" y="216.3" width="2.4" height="13.0" fill="#3b5fe0"/>
<line x1="509.39" y1="213.9" x2="509.39" y2="278.2" stroke="#d9215f" stroke-width="0.8" opacity="0.6"/>
<rect x="508.19" y="216.3" width="2.4" height="49.9" fill="#d9215f"/>
<line x1="512.27" y1="261.0" x2="512.27" y2="288.2" stroke="#d9215f" stroke-width="0.8" opacity="0.6"/>
<rect x="511.07" y="266.3" width="2.4" height="16.1" fill="#d9215f"/>
<line x1="515.15" y1="280.8" x2="515.15" y2="297.1" stroke="#d9215f" stroke-width="0.8" opacity="0.6"/>
<rect x="513.95" y="282.4" width="2.4" height="11.0" fill="#d9215f"/>
<line x1="518.03" y1="280.2" x2="518.03" y2="294.7" stroke="#3b5fe0" stroke-width="0.8" opacity="0.6"/>
<rect x="516.83" y="283.6" width="2.4" height="9.7" fill="#3b5fe0"/>
<line x1="520.90" y1="278.0" x2="520.90" y2="305.9" stroke="#d9215f" stroke-width="0.8" opacity="0.6"/>
<rect x="519.70" y="283.6" width="2.4" height="16.3" fill="#d9215f"/>
<line x1="523.78" y1="287.3" x2="523.78" y2="321.9" stroke="#d9215f" stroke-width="0.8" opacity="0.6"/>
<rect x="522.58" y="299.9" width="2.4" height="18.7" fill="#d9215f"/>
<line x1="526.66" y1="309.6" x2="526.66" y2="334.7" stroke="#3b5fe0" stroke-width="0.8" opacity="0.6"/>
<rect x="525.46" y="317.2" width="2.4" height="1.4" fill="#3b5fe0"/>
<line x1="529.54" y1="315.1" x2="529.54" y2="320.0" stroke="#d9215f" stroke-width="0.8" opacity="0.6"/>
<rect x="528.34" y="317.2" width="2.4" height="1.0" fill="#d9215f"/>
<line x1="532.41" y1="299.3" x2="532.41" y2="321.3" stroke="#3b5fe0" stroke-width="0.8" opacity="0.6"/>
<rect x="531.21" y="301.2" width="2.4" height="16.9" fill="#3b5fe0"/>
<line x1="535.29" y1="298.3" x2="535.29" y2="302.3" stroke="#3b5fe0" stroke-width="0.8" opacity="0.6"/>
<rect x="534.09" y="299.8" width="2.4" height="1.3" fill="#3b5fe0"/>
<line x1="538.17" y1="236.1" x2="538.17" y2="306.9" stroke="#3b5fe0" stroke-width="0.8" opacity="0.6"/>
<rect x="536.97" y="241.6" width="2.4" height="58.2" fill="#3b5fe0"/>
<line x1="541.05" y1="238.9" x2="541.05" y2="243.4" stroke="#d9215f" stroke-width="0.8" opacity="0.6"/>
<rect x="539.85" y="241.6" width="2.4" height="1.2" fill="#d9215f"/>
<line x1="543.92" y1="235.9" x2="543.92" y2="245.0" stroke="#3b5fe0" stroke-width="0.8" opacity="0.6"/>
<rect x="542.72" y="238.5" width="2.4" height="4.2" fill="#3b5fe0"/>
<line x1="546.80" y1="237.9" x2="546.80" y2="241.0" stroke="#d9215f" stroke-width="0.8" opacity="0.6"/>
<rect x="545.60" y="238.5" width="2.4" height="1.0" fill="#d9215f"/>
<line x1="549.68" y1="236.8" x2="549.68" y2="244.2" stroke="#d9215f" stroke-width="0.8" opacity="0.6"/>
<rect x="548.48" y="239.4" width="2.4" height="2.5" fill="#d9215f"/>
<line x1="552.56" y1="238.0" x2="552.56" y2="245.8" stroke="#3b5fe0" stroke-width="0.8" opacity="0.6"/>
<rect x="551.36" y="238.9" width="2.4" height="3.1" fill="#3b5fe0"/>
<line x1="555.43" y1="231.4" x2="555.43" y2="274.0" stroke="#d9215f" stroke-width="0.8" opacity="0.6"/>
<rect x="554.23" y="238.9" width="2.4" height="26.3" fill="#d9215f"/>
<line x1="558.31" y1="240.6" x2="558.31" y2="268.4" stroke="#3b5fe0" stroke-width="0.8" opacity="0.6"/>
<rect x="557.11" y="242.8" width="2.4" height="22.4" fill="#3b5fe0"/>
<line x1="561.19" y1="236.0" x2="561.19" y2="246.5" stroke="#3b5fe0" stroke-width="0.8" opacity="0.6"/>
<rect x="559.99" y="237.0" width="2.4" height="5.8" fill="#3b5fe0"/>
<line x1="564.07" y1="199.3" x2="564.07" y2="240.2" stroke="#3b5fe0" stroke-width="0.8" opacity="0.6"/>
<rect x="562.87" y="203.8" width="2.4" height="33.2" fill="#3b5fe0"/>
<line x1="566.94" y1="129.1" x2="566.94" y2="221.4" stroke="#3b5fe0" stroke-width="0.8" opacity="0.6"/>
<rect x="565.74" y="139.1" width="2.4" height="64.7" fill="#3b5fe0"/>
<line x1="569.82" y1="123.6" x2="569.82" y2="141.9" stroke="#3b5fe0" stroke-width="0.8" opacity="0.6"/>
<rect x="568.62" y="129.6" width="2.4" height="9.6" fill="#3b5fe0"/>
<line x1="572.70" y1="126.0" x2="572.70" y2="171.4" stroke="#d9215f" stroke-width="0.8" opacity="0.6"/>
<rect x="571.50" y="129.6" width="2.4" height="30.9" fill="#d9215f"/>
<line x1="575.58" y1="86.0" x2="575.58" y2="174.9" stroke="#3b5fe0" stroke-width="0.8" opacity="0.6"/>
<rect x="574.38" y="98.4" width="2.4" height="62.1" fill="#3b5fe0"/>
<line x1="578.45" y1="77.3" x2="578.45" y2="100.6" stroke="#3b5fe0" stroke-width="0.8" opacity="0.6"/>
<rect x="577.25" y="79.8" width="2.4" height="18.6" fill="#3b5fe0"/>
<line x1="581.33" y1="56.0" x2="581.33" y2="102.5" stroke="#3b5fe0" stroke-width="0.8" opacity="0.6"/>
<rect x="580.13" y="56.0" width="2.4" height="23.8" fill="#3b5fe0"/>
<line x1="584.21" y1="56.0" x2="584.21" y2="99.3" stroke="#d9215f" stroke-width="0.8" opacity="0.6"/>
<rect x="583.01" y="56.0" width="2.4" height="30.8" fill="#d9215f"/>
<line x1="587.09" y1="81.8" x2="587.09" y2="99.8" stroke="#d9215f" stroke-width="0.8" opacity="0.6"/>
<rect x="585.89" y="86.8" width="2.4" height="7.0" fill="#d9215f"/>
<line x1="589.96" y1="66.3" x2="589.96" y2="103.8" stroke="#3b5fe0" stroke-width="0.8" opacity="0.6"/>
<rect x="588.76" y="69.1" width="2.4" height="24.8" fill="#3b5fe0"/>
<line x1="592.84" y1="67.0" x2="592.84" y2="89.6" stroke="#d9215f" stroke-width="0.8" opacity="0.6"/>
<rect x="591.64" y="69.1" width="2.4" height="12.8" fill="#d9215f"/>
<line x1="595.72" y1="75.6" x2="595.72" y2="112.6" stroke="#d9215f" stroke-width="0.8" opacity="0.6"/>
<rect x="594.52" y="81.9" width="2.4" height="25.6" fill="#d9215f"/>
<line x1="598.60" y1="68.6" x2="598.60" y2="119.2" stroke="#3b5fe0" stroke-width="0.8" opacity="0.6"/>
<rect x="597.40" y="76.5" width="2.4" height="30.9" fill="#3b5fe0"/>
<line x1="601.48" y1="57.1" x2="601.48" y2="165.6" stroke="#d9215f" stroke-width="0.8" opacity="0.6"/>
<rect x="600.27" y="76.5" width="2.4" height="29.5" fill="#d9215f"/>
<line x1="604.35" y1="100.9" x2="604.35" y2="123.4" stroke="#d9215f" stroke-width="0.8" opacity="0.6"/>
<rect x="603.15" y="106.0" width="2.4" height="14.2" fill="#d9215f"/>
<line x1="607.23" y1="103.8" x2="607.23" y2="122.9" stroke="#3b5fe0" stroke-width="0.8" opacity="0.6"/>
<rect x="606.03" y="106.0" width="2.4" height="14.2" fill="#3b5fe0"/>
<line x1="610.11" y1="103.8" x2="610.11" y2="130.3" stroke="#d9215f" stroke-width="0.8" opacity="0.6"/>
<rect x="608.91" y="106.0" width="2.4" height="20.8" fill="#d9215f"/>
<line x1="612.99" y1="122.1" x2="612.99" y2="158.1" stroke="#d9215f" stroke-width="0.8" opacity="0.6"/>
<rect x="611.78" y="126.8" width="2.4" height="26.6" fill="#d9215f"/>
<line x1="615.86" y1="147.9" x2="615.86" y2="201.5" stroke="#d9215f" stroke-width="0.8" opacity="0.6"/>
<rect x="614.66" y="153.4" width="2.4" height="40.3" fill="#d9215f"/>
<line x1="618.74" y1="180.9" x2="618.74" y2="232.8" stroke="#d9215f" stroke-width="0.8" opacity="0.6"/>
<rect x="617.54" y="193.7" width="2.4" height="24.3" fill="#d9215f"/>
<line x1="621.62" y1="198.9" x2="621.62" y2="219.4" stroke="#3b5fe0" stroke-width="0.8" opacity="0.6"/>
<rect x="620.42" y="202.3" width="2.4" height="15.7" fill="#3b5fe0"/>
<line x1="624.49" y1="194.6" x2="624.49" y2="203.3" stroke="#3b5fe0" stroke-width="0.8" opacity="0.6"/>
<rect x="623.29" y="196.5" width="2.4" height="5.8" fill="#3b5fe0"/>
<line x1="627.37" y1="193.0" x2="627.37" y2="199.1" stroke="#3b5fe0" stroke-width="0.8" opacity="0.6"/>
<rect x="626.17" y="196.1" width="2.4" height="1.0" fill="#3b5fe0"/>
<line x1="630.25" y1="194.4" x2="630.25" y2="205.3" stroke="#d9215f" stroke-width="0.8" opacity="0.6"/>
<rect x="629.05" y="196.1" width="2.4" height="6.2" fill="#d9215f"/>
<line x1="633.13" y1="197.6" x2="633.13" y2="209.0" stroke="#d9215f" stroke-width="0.8" opacity="0.6"/>
<rect x="631.93" y="202.3" width="2.4" height="5.4" fill="#d9215f"/>
<line x1="636.00" y1="183.7" x2="636.00" y2="211.9" stroke="#3b5fe0" stroke-width="0.8" opacity="0.6"/>
<rect x="634.80" y="190.4" width="2.4" height="17.3" fill="#3b5fe0"/>
<line x1="638.88" y1="187.1" x2="638.88" y2="202.2" stroke="#d9215f" stroke-width="0.8" opacity="0.6"/>
<rect x="637.68" y="190.4" width="2.4" height="7.0" fill="#d9215f"/>
<line x1="641.76" y1="174.7" x2="641.76" y2="202.3" stroke="#3b5fe0" stroke-width="0.8" opacity="0.6"/>
<rect x="640.56" y="178.8" width="2.4" height="18.6" fill="#3b5fe0"/>
<line x1="644.64" y1="168.5" x2="644.64" y2="219.6" stroke="#d9215f" stroke-width="0.8" opacity="0.6"/>
<rect x="643.44" y="178.8" width="2.4" height="39.2" fill="#d9215f"/>
<line x1="647.51" y1="216.3" x2="647.51" y2="263.4" stroke="#d9215f" stroke-width="0.8" opacity="0.6"/>
<rect x="646.31" y="218.0" width="2.4" height="44.0" fill="#d9215f"/>
<line x1="650.39" y1="260.1" x2="650.39" y2="305.0" stroke="#d9215f" stroke-width="0.8" opacity="0.6"/>
<rect x="649.19" y="262.0" width="2.4" height="15.4" fill="#d9215f"/>
<line x1="653.27" y1="274.9" x2="653.27" y2="289.5" stroke="#d9215f" stroke-width="0.8" opacity="0.6"/>
<rect x="652.07" y="277.4" width="2.4" height="9.9" fill="#d9215f"/>
<line x1="656.15" y1="286.6" x2="656.15" y2="290.2" stroke="#d9215f" stroke-width="0.8" opacity="0.6"/>
<rect x="654.95" y="287.3" width="2.4" height="2.1" fill="#d9215f"/>
<line x1="659.02" y1="288.3" x2="659.02" y2="291.4" stroke="#3b5fe0" stroke-width="0.8" opacity="0.6"/>
<rect x="657.82" y="288.9" width="2.4" height="1.0" fill="#3b5fe0"/>
<line x1="661.90" y1="288.0" x2="661.90" y2="290.0" stroke="#d9215f" stroke-width="0.8" opacity="0.6"/>
<rect x="660.70" y="288.9" width="2.4" height="1.0" fill="#d9215f"/>
</g>

<defs><linearGradient id="ig" x1="1" y1="0" x2="0" y2="1"><stop offset="0" stop-color="#b43ad6"/><stop offset="1" stop-color="#6a3df0"/></linearGradient></defs>
<path d="M652.7 481.6 A9.2 9.2 0 0 1 664.85 476.07" fill="none" stroke="#6a3ee8" stroke-width="1.25" stroke-linecap="round"/>
<path d="M669.89 481.06 A9.2 9.2 0 0 1 655.01 491.22" fill="none" stroke="url(#ig)" stroke-width="1.25" stroke-linecap="round"/>
<path d="M663.4 480.5 L659 485.6 L663 484.3 L659.2 489.2" fill="none" stroke="#7a2fd8" stroke-width="1.35" stroke-linejoin="miter"/>
<circle cx="667.8" cy="478.1" r="2.5" fill="#e23a4d"/>
<path d="M651.6 483.4 Q652.3 487.1 656 487.8 Q652.3 488.5 651.6 492.2 Q650.9 488.5 647.2 487.8 Q650.9 487.1 651.6 483.4 Z" fill="#5b4ef5"/>
<circle cx="661.4" cy="507.2" r="9.4" fill="#fffefa" stroke="#d9485a" stroke-width="1.3"/>
<clipPath id="fl"><circle cx="661.4" cy="507.2" r="7.4"/></clipPath>
<g clip-path="url(#fl)">
<rect x="653" y="499" width="17" height="17" fill="#fff"/>
<rect x="653" y="500.6" width="17" height="1.9" fill="#e8505b"/>
<rect x="653" y="505.7" width="17" height="2.4" fill="#e8505b"/>
<rect x="653" y="511.1" width="17" height="2.9" fill="#e8505b"/>
<rect x="653" y="499" width="10" height="9.5" fill="#4a8fe0"/>
<g fill="#dbe9fb"><circle cx="656.2" cy="502" r="0.55"/><circle cx="658.6" cy="502" r="0.55"/><circle cx="661" cy="502" r="0.55"/><circle cx="656.2" cy="504.3" r="0.55"/><circle cx="658.6" cy="504.3" r="0.55"/><circle cx="661" cy="504.3" r="0.55"/><circle cx="656.2" cy="506.6" r="0.55"/><circle cx="658.6" cy="506.6" r="0.55"/><circle cx="661" cy="506.6" r="0.55"/><circle cx="654.2" cy="504.3" r="0.55"/><circle cx="654.2" cy="506.6" r="0.55"/></g>
</g>

<g id="overlays">
<line x1="83" y1="290.1" x2="233" y2="290.1" stroke="#d9215f" stroke-width="1" stroke-dasharray="1 1.6"/><line x1="233" y1="290.1" x2="377" y2="290.1" stroke="#f7d9c0" stroke-width="1" stroke-dasharray="1 1.6" opacity="0.55"/><line x1="377" y1="290.1" x2="925" y2="290.1" stroke="#d9215f" stroke-width="1" stroke-dasharray="1 1.6"/><line x1="377" y1="292.6" x2="925" y2="292.6" stroke="#e0282e" stroke-width="1.9"/><line x1="233" y1="292.6" x2="308" y2="292.6" stroke="#4b4fb0" stroke-width="1.5"/><line x1="308" y1="292.6" x2="377" y2="292.6" stroke="#ee7d1c" stroke-width="1.9"/><line x1="661" y1="291.6" x2="925" y2="291.6" stroke="#111" stroke-width="2"/><line x1="83" y1="379" x2="925" y2="294.4" stroke="#3a67dd" stroke-width="1.9"/><path d="M663.3 299.8 H697.5 L704.4 293 L711.5 299.8 H746 a3 3 0 0 1 3 3 V319 a3 3 0 0 1 -3 3 H663.3 a3 3 0 0 1 -3 -3 V302.8 a3 3 0 0 1 3 -3 Z" fill="#2f6cf2"/><text x="668" y="315.3" font-size="12.6" fill="#1c3f9e">POC: 1906.34</text><text transform="translate(572.5,323.5) rotate(-5.5)" font-size="12.6" fill="#e0465a">trendline</text><text transform="translate(648.2,253.5) rotate(61)" font-size="12.8" fill="#1a1a1a">trendline</text><g stroke="#c2185b" stroke-width="1.6" fill="none" stroke-linecap="round"><line x1="647.4" y1="248" x2="678.8" y2="355.2"/><path d="M666.8 347.7 L678.8 355.2 L685.2 344.4"/></g><g stroke="#c4272b" stroke-width="2" stroke-linecap="round"><line x1="247.4" y1="291" x2="264.8" y2="280.3"/><line x1="264.8" y1="280.3" x2="314" y2="273.3"/><line x1="325" y1="254" x2="340" y2="226"/><line x1="419" y1="157" x2="481" y2="111"/></g><path d="M143 347.5 L150 348.5 L153 352" stroke="#43a047" stroke-width="1.4" fill="none"/><rect x="253.0" y="264.0" width="23" height="13" rx="1.8" fill="#f2474f"/><path d="M261.0 276.7 L268.0 276.7 L264.5 281.5 Z" fill="#f2474f"/><text x="264.5" y="272.9" font-size="6.6" fill="#fff" fill-opacity="0.88" text-anchor="middle">-RD</text><rect x="302.5" y="256.5" width="23" height="13" rx="1.8" fill="#f2474f"/><path d="M310.5 269.2 L317.5 269.2 L314.0 274.0 Z" fill="#f2474f"/><text x="314.0" y="265.4" font-size="6.6" fill="#fff" fill-opacity="0.88" text-anchor="middle">-RD</text><rect x="328.0" y="208.5" width="23" height="13" rx="1.8" fill="#f2474f"/><path d="M336.0 221.2 L343.0 221.2 L339.5 226.0 Z" fill="#f2474f"/><text x="339.5" y="217.4" font-size="6.6" fill="#fff" fill-opacity="0.88" text-anchor="middle">-RD</text><rect x="468.8" y="94.0" width="23" height="13" rx="1.8" fill="#f2474f"/><path d="M476.8 106.7 L483.8 106.7 L480.3 111.5 Z" fill="#f2474f"/><text x="480.3" y="102.9" font-size="6.6" fill="#fff" fill-opacity="0.88" text-anchor="middle">-RD</text><rect x="140.2" y="354.5" width="24.6" height="14" rx="1.8" fill="#4caf50"/><path d="M149.0 354.8 L156.0 354.8 L152.5 351.5 Z" fill="#4caf50"/><text x="152.5" y="363.9" font-size="6.6" fill="#fff" fill-opacity="0.88" text-anchor="middle">+RD</text>
</g>
<!-- pane separators -->
<line x1="8" y1="55.3" x2="1016" y2="55.3" stroke="#e0505f" stroke-width="1.2"/>
<line x1="8" y1="519.4" x2="1016" y2="519.4" stroke="#e0505f" stroke-width="1.2"/>
<!-- cvd -->
<rect x="82.53" y="644.7" width="2" height="38.2" fill="#f2a3a3"/>
<rect x="85.40" y="644.7" width="2" height="38.2" fill="#f2a3a3"/>
<rect x="88.28" y="644.7" width="2" height="38.2" fill="#f2a3a3"/>
<rect x="91.16" y="644.7" width="2" height="38.2" fill="#f2a3a3"/>
<rect x="94.03" y="644.7" width="2" height="38.2" fill="#f2a3a3"/>
<rect x="96.91" y="644.7" width="2" height="38.2" fill="#f2a3a3"/>
<rect x="99.79" y="644.7" width="2" height="38.2" fill="#f2a3a3"/>
<rect x="102.67" y="644.7" width="2" height="38.2" fill="#f2a3a3"/>
<rect x="105.55" y="644.7" width="2" height="38.2" fill="#f2a3a3"/>
<rect x="108.42" y="644.7" width="2" height="38.2" fill="#f2a3a3"/>
<rect x="111.30" y="644.7" width="2" height="38.2" fill="#f2a3a3"/>
<rect x="114.18" y="644.7" width="2" height="38.2" fill="#f2a3a3"/>
<rect x="117.05" y="644.7" width="2" height="38.2" fill="#f2a3a3"/>
<rect x="119.93" y="644.7" width="2" height="38.2" fill="#f2a3a3"/>
<rect x="122.81" y="644.7" width="2" height="38.2" fill="#f2a3a3"/>
<rect x="125.69" y="644.7" width="2" height="38.2" fill="#f2a3a3"/>
<rect x="128.56" y="644.7" width="2" height="38.2" fill="#f2a3a3"/>
<rect x="131.44" y="644.7" width="2" height="38.2" fill="#f2a3a3"/>
<rect x="134.32" y="644.7" width="2" height="38.2" fill="#f2a3a3"/>
<rect x="137.20" y="644.7" width="2" height="38.2" fill="#f2a3a3"/>
<rect x="140.07" y="644.7" width="2" height="38.2" fill="#f2a3a3"/>
<rect x="142.95" y="644.7" width="2" height="38.2" fill="#f2a3a3"/>
<rect x="145.83" y="644.7" width="2" height="38.2" fill="#f2a3a3"/>
<rect x="148.71" y="644.7" width="2" height="38.2" fill="#f2a3a3"/>
<rect x="151.58" y="644.7" width="2" height="38.2" fill="#f2a3a3"/>
<rect x="154.46" y="644.7" width="2" height="38.2" fill="#f2a3a3"/>
<rect x="157.34" y="644.7" width="2" height="38.2" fill="#f2a3a3"/>
<rect x="160.22" y="603.0" width="2" height="41.7" fill="#a9d5a6"/>
<rect x="163.09" y="612.7" width="2" height="32.0" fill="#a9d5a6"/>
<rect x="165.97" y="644.7" width="2" height="10.8" fill="#f2a3a3"/>
<rect x="168.85" y="616.1" width="2" height="28.6" fill="#a9d5a6"/>
<rect x="171.73" y="607.7" width="2" height="37.0" fill="#a9d5a6"/>
<rect x="174.60" y="635.7" width="2" height="9.0" fill="#a9d5a6"/>
<rect x="177.48" y="644.7" width="2" height="26.0" fill="#f2a3a3"/>
<rect x="180.36" y="644.7" width="2" height="34.0" fill="#f2a3a3"/>
<rect x="183.24" y="644.7" width="2" height="38.2" fill="#f2a3a3"/>
<rect x="186.12" y="644.7" width="2" height="38.2" fill="#f2a3a3"/>
<rect x="188.99" y="644.7" width="2" height="7.5" fill="#f2a3a3"/>
<rect x="191.87" y="613.3" width="2" height="31.4" fill="#a9d5a6"/>
<rect x="194.75" y="604.7" width="2" height="40.0" fill="#a9d5a6"/>
<rect x="197.62" y="629.7" width="2" height="15.0" fill="#a9d5a6"/>
<rect x="200.50" y="605.1" width="2" height="39.6" fill="#a9d5a6"/>
<rect x="203.38" y="584.7" width="2" height="60.0" fill="#a9d5a6"/>
<rect x="206.26" y="559.7" width="2" height="85.0" fill="#a9d5a6"/>
<rect x="209.13" y="575.3" width="2" height="69.4" fill="#a9d5a6"/>
<rect x="212.01" y="563.7" width="2" height="81.0" fill="#a9d5a6"/>
<rect x="214.89" y="560.4" width="2" height="84.3" fill="#a9d5a6"/>
<rect x="217.77" y="588.1" width="2" height="56.6" fill="#a9d5a6"/>
<rect x="220.64" y="573.7" width="2" height="71.0" fill="#a9d5a6"/>
<rect x="223.52" y="542.3" width="2" height="102.4" fill="#a9d5a6"/>
<rect x="226.40" y="520.3" width="2" height="124.4" fill="#a9d5a6"/>
<rect x="229.28" y="524.9" width="2" height="119.8" fill="#a9d5a6"/>
<rect x="232.16" y="538.2" width="2" height="106.5" fill="#a9d5a6"/>
<rect x="235.03" y="547.3" width="2" height="97.4" fill="#a9d5a6"/>
<rect x="237.91" y="542.3" width="2" height="102.4" fill="#a9d5a6"/>
<rect x="240.79" y="551.4" width="2" height="93.3" fill="#a9d5a6"/>
<rect x="243.67" y="537.0" width="2" height="107.7" fill="#a9d5a6"/>
<rect x="246.54" y="551.9" width="2" height="92.8" fill="#a9d5a6"/>
<rect x="249.42" y="575.3" width="2" height="69.4" fill="#a9d5a6"/>
<rect x="252.30" y="585.1" width="2" height="59.6" fill="#a9d5a6"/>
<rect x="255.18" y="595.4" width="2" height="49.3" fill="#a9d5a6"/>
<rect x="258.05" y="590.4" width="2" height="54.3" fill="#a9d5a6"/>
<rect x="260.93" y="589.7" width="2" height="55.0" fill="#a9d5a6"/>
<rect x="263.81" y="592.0" width="2" height="52.7" fill="#a9d5a6"/>
<rect x="266.69" y="593.1" width="2" height="51.6" fill="#a9d5a6"/>
<rect x="269.56" y="594.3" width="2" height="50.4" fill="#a9d5a6"/>
<rect x="272.44" y="605.3" width="2" height="39.4" fill="#a9d5a6"/>
<rect x="275.32" y="629.3" width="2" height="15.4" fill="#a9d5a6"/>
<rect x="278.19" y="626.4" width="2" height="18.3" fill="#a9d5a6"/>
<rect x="281.07" y="633.9" width="2" height="10.8" fill="#a9d5a6"/>
<rect x="283.95" y="639.4" width="2" height="5.3" fill="#a9d5a6"/>
<rect x="286.83" y="644.7" width="2" height="22.9" fill="#f2a3a3"/>
<rect x="289.70" y="644.7" width="2" height="1.6" fill="#f2a3a3"/>
<rect x="292.58" y="644.7" width="2" height="3.0" fill="#f2a3a3"/>
<rect x="295.46" y="635.1" width="2" height="9.6" fill="#a9d5a6"/>
<rect x="298.34" y="636.2" width="2" height="8.5" fill="#a9d5a6"/>
<rect x="301.21" y="637.8" width="2" height="6.9" fill="#a9d5a6"/>
<rect x="304.09" y="639.7" width="2" height="5.0" fill="#a9d5a6"/>
<rect x="306.97" y="635.5" width="2" height="9.2" fill="#a9d5a6"/>
<rect x="309.85" y="623.7" width="2" height="21.0" fill="#a9d5a6"/>
<rect x="312.72" y="621.3" width="2" height="23.4" fill="#a9d5a6"/>
<rect x="315.60" y="628.7" width="2" height="16.0" fill="#a9d5a6"/>
<rect x="318.48" y="632.1" width="2" height="12.6" fill="#a9d5a6"/>
<rect x="321.36" y="623.7" width="2" height="21.0" fill="#a9d5a6"/>
<rect x="324.24" y="616.7" width="2" height="28.0" fill="#a9d5a6"/>
<rect x="327.11" y="619.0" width="2" height="25.7" fill="#a9d5a6"/>
<rect x="329.99" y="616.3" width="2" height="28.4" fill="#a9d5a6"/>
<rect x="332.87" y="616.3" width="2" height="28.4" fill="#a9d5a6"/>
<rect x="335.75" y="621.3" width="2" height="23.4" fill="#a9d5a6"/>
<rect x="338.62" y="615.7" width="2" height="29.0" fill="#a9d5a6"/>
<rect x="341.50" y="622.7" width="2" height="22.0" fill="#a9d5a6"/>
<rect x="344.38" y="623.2" width="2" height="21.5" fill="#a9d5a6"/>
<rect x="347.25" y="623.2" width="2" height="21.5" fill="#a9d5a6"/>
<rect x="350.13" y="618.7" width="2" height="26.0" fill="#a9d5a6"/>
<rect x="353.01" y="604.1" width="2" height="40.6" fill="#a9d5a6"/>
<rect x="355.89" y="597.7" width="2" height="47.0" fill="#a9d5a6"/>
<rect x="358.76" y="577.7" width="2" height="67.0" fill="#a9d5a6"/>
<rect x="361.64" y="560.7" width="2" height="84.0" fill="#a9d5a6"/>
<rect x="364.52" y="575.7" width="2" height="69.0" fill="#a9d5a6"/>
<rect x="367.40" y="573.9" width="2" height="70.8" fill="#a9d5a6"/>
<rect x="370.28" y="572.1" width="2" height="72.6" fill="#a9d5a6"/>
<rect x="373.15" y="576.2" width="2" height="68.5" fill="#a9d5a6"/>
<rect x="376.03" y="581.7" width="2" height="63.0" fill="#a9d5a6"/>
<rect x="378.91" y="580.7" width="2" height="64.0" fill="#a9d5a6"/>
<rect x="381.79" y="583.1" width="2" height="61.6" fill="#a9d5a6"/>
<rect x="384.66" y="586.7" width="2" height="58.0" fill="#a9d5a6"/>
<rect x="387.54" y="585.7" width="2" height="59.0" fill="#a9d5a6"/>
<rect x="390.42" y="586.7" width="2" height="58.0" fill="#a9d5a6"/>
<rect x="393.30" y="555.7" width="2" height="89.0" fill="#a9d5a6"/>
<rect x="396.17" y="554.7" width="2" height="90.0" fill="#a9d5a6"/>
<rect x="399.05" y="559.9" width="2" height="84.8" fill="#a9d5a6"/>
<rect x="401.93" y="551.0" width="2" height="93.7" fill="#a9d5a6"/>
<rect x="404.81" y="550.3" width="2" height="94.4" fill="#a9d5a6"/>
<rect x="407.68" y="543.7" width="2" height="101.0" fill="#a9d5a6"/>
<rect x="410.56" y="557.7" width="2" height="87.0" fill="#a9d5a6"/>
<rect x="413.44" y="561.3" width="2" height="83.4" fill="#a9d5a6"/>
<rect x="416.31" y="564.0" width="2" height="80.7" fill="#a9d5a6"/>
<rect x="419.19" y="583.5" width="2" height="61.2" fill="#a9d5a6"/>
<rect x="422.07" y="607.7" width="2" height="37.0" fill="#a9d5a6"/>
<rect x="424.95" y="593.1" width="2" height="51.6" fill="#a9d5a6"/>
<rect x="427.82" y="601.8" width="2" height="42.9" fill="#a9d5a6"/>
<rect x="430.70" y="606.4" width="2" height="38.3" fill="#a9d5a6"/>
<rect x="433.58" y="614.0" width="2" height="30.7" fill="#a9d5a6"/>
<rect x="436.46" y="611.0" width="2" height="33.7" fill="#a9d5a6"/>
<rect x="439.33" y="619.0" width="2" height="25.7" fill="#a9d5a6"/>
<rect x="442.21" y="615.7" width="2" height="29.0" fill="#a9d5a6"/>
<rect x="445.09" y="617.9" width="2" height="26.8" fill="#a9d5a6"/>
<rect x="447.97" y="615.7" width="2" height="29.0" fill="#a9d5a6"/>
<rect x="450.85" y="615.7" width="2" height="29.0" fill="#a9d5a6"/>
<rect x="453.72" y="636.7" width="2" height="8.0" fill="#a9d5a6"/>
<rect x="456.60" y="634.4" width="2" height="10.3" fill="#a9d5a6"/>
<rect x="459.48" y="639.0" width="2" height="5.7" fill="#a9d5a6"/>
<rect x="462.36" y="625.9" width="2" height="18.8" fill="#a9d5a6"/>
<rect x="465.23" y="636.2" width="2" height="8.5" fill="#a9d5a6"/>
<rect x="468.11" y="632.1" width="2" height="12.6" fill="#a9d5a6"/>
<rect x="470.99" y="610.3" width="2" height="34.4" fill="#a9d5a6"/>
<rect x="473.87" y="606.4" width="2" height="38.3" fill="#a9d5a6"/>
<rect x="476.74" y="605.3" width="2" height="39.4" fill="#a9d5a6"/>
<rect x="479.62" y="605.3" width="2" height="39.4" fill="#a9d5a6"/>
<rect x="482.50" y="603.0" width="2" height="41.7" fill="#a9d5a6"/>
<rect x="485.38" y="604.1" width="2" height="40.6" fill="#a9d5a6"/>
<rect x="488.25" y="604.1" width="2" height="40.6" fill="#a9d5a6"/>
<rect x="491.13" y="608.7" width="2" height="36.0" fill="#a9d5a6"/>
<rect x="494.01" y="606.9" width="2" height="37.8" fill="#a9d5a6"/>
<rect x="496.88" y="612.7" width="2" height="32.0" fill="#a9d5a6"/>
<rect x="499.76" y="603.0" width="2" height="41.7" fill="#a9d5a6"/>
<rect x="502.64" y="610.7" width="2" height="34.0" fill="#a9d5a6"/>
<rect x="505.52" y="603.7" width="2" height="41.0" fill="#a9d5a6"/>
<rect x="508.39" y="598.0" width="2" height="46.7" fill="#a9d5a6"/>
<rect x="511.27" y="613.3" width="2" height="31.4" fill="#a9d5a6"/>
<rect x="514.15" y="625.2" width="2" height="19.5" fill="#a9d5a6"/>
<rect x="517.03" y="620.2" width="2" height="24.5" fill="#a9d5a6"/>
<rect x="519.90" y="619.5" width="2" height="25.2" fill="#a9d5a6"/>
<rect x="522.78" y="644.2" width="2" height="0.5" fill="#a9d5a6"/>
<rect x="525.66" y="622.5" width="2" height="22.2" fill="#a9d5a6"/>
<rect x="528.54" y="633.2" width="2" height="11.5" fill="#a9d5a6"/>
<rect x="531.41" y="642.0" width="2" height="2.7" fill="#a9d5a6"/>
<rect x="534.29" y="644.7" width="2" height="12.1" fill="#f2a3a3"/>
<rect x="537.17" y="644.7" width="2" height="9.4" fill="#f2a3a3"/>
<rect x="540.05" y="644.7" width="2" height="1.8" fill="#f2a3a3"/>
<rect x="545.80" y="644.7" width="2" height="8.7" fill="#f2a3a3"/>
<rect x="548.68" y="644.7" width="2" height="6.9" fill="#f2a3a3"/>
<rect x="551.56" y="644.7" width="2" height="10.3" fill="#f2a3a3"/>
<rect x="554.43" y="644.7" width="2" height="12.6" fill="#f2a3a3"/>
<rect x="560.19" y="644.7" width="2" height="4.1" fill="#f2a3a3"/>
<rect x="563.07" y="642.0" width="2" height="2.7" fill="#a9d5a6"/>
<rect x="565.94" y="633.9" width="2" height="10.8" fill="#a9d5a6"/>
<rect x="568.82" y="624.1" width="2" height="20.6" fill="#a9d5a6"/>
<rect x="571.70" y="616.3" width="2" height="28.4" fill="#a9d5a6"/>
<rect x="574.58" y="601.8" width="2" height="42.9" fill="#a9d5a6"/>
<rect x="577.45" y="604.8" width="2" height="39.9" fill="#a9d5a6"/>
<rect x="580.33" y="592.0" width="2" height="52.7" fill="#a9d5a6"/>
<rect x="583.21" y="590.4" width="2" height="54.3" fill="#a9d5a6"/>
<rect x="586.09" y="598.9" width="2" height="45.8" fill="#a9d5a6"/>
<rect x="588.96" y="594.5" width="2" height="50.2" fill="#a9d5a6"/>
<rect x="591.84" y="604.1" width="2" height="40.6" fill="#a9d5a6"/>
<rect x="594.72" y="604.8" width="2" height="39.9" fill="#a9d5a6"/>
<rect x="597.60" y="614.5" width="2" height="30.2" fill="#a9d5a6"/>
<rect x="600.48" y="611.0" width="2" height="33.7" fill="#a9d5a6"/>
<rect x="603.35" y="611.7" width="2" height="33.0" fill="#a9d5a6"/>
<rect x="606.23" y="601.8" width="2" height="42.9" fill="#a9d5a6"/>
<rect x="609.11" y="601.8" width="2" height="42.9" fill="#a9d5a6"/>
<rect x="611.99" y="594.3" width="2" height="50.4" fill="#a9d5a6"/>
<rect x="614.86" y="593.4" width="2" height="51.3" fill="#a9d5a6"/>
<rect x="617.74" y="604.1" width="2" height="40.6" fill="#a9d5a6"/>
<rect x="620.62" y="603.0" width="2" height="41.7" fill="#a9d5a6"/>
<rect x="623.49" y="604.8" width="2" height="39.9" fill="#a9d5a6"/>
<rect x="626.37" y="627.1" width="2" height="17.6" fill="#a9d5a6"/>
<rect x="629.25" y="639.7" width="2" height="5.0" fill="#a9d5a6"/>
<rect x="632.13" y="636.2" width="2" height="8.5" fill="#a9d5a6"/>
<rect x="635.00" y="642.4" width="2" height="2.3" fill="#a9d5a6"/>
<rect x="640.76" y="644.7" width="2" height="5.3" fill="#f2a3a3"/>
<rect x="643.64" y="644.7" width="2" height="4.6" fill="#f2a3a3"/>
<rect x="646.51" y="644.7" width="2" height="12.8" fill="#f2a3a3"/>
<rect x="649.39" y="644.7" width="2" height="13.7" fill="#f2a3a3"/>
<rect x="652.27" y="644.7" width="2" height="15.1" fill="#f2a3a3"/>
<rect x="655.15" y="644.7" width="2" height="16.7" fill="#f2a3a3"/>
<rect x="658.02" y="644.7" width="2" height="22.5" fill="#f2a3a3"/>
<rect x="660.90" y="644.7" width="2" height="24.0" fill="#f2a3a3"/>
<g stroke="#c4272b" stroke-width="2" stroke-linecap="round"><line x1="246.8" y1="551.2" x2="265.1" y2="591"/><line x1="265.1" y1="591" x2="313.9" y2="620.9"/><line x1="324.7" y1="613.5" x2="339.6" y2="615.8"/><line x1="420.2" y1="582.6" x2="480" y2="606.7"/></g><rect x="253.6" y="574.0" width="23" height="13" rx="1.8" fill="#f2474f"/><path d="M261.6 586.7 L268.6 586.7 L265.1 591.5 Z" fill="#f2474f"/><text x="265.1" y="582.9" font-size="6.6" fill="#fff" fill-opacity="0.88" text-anchor="middle">-RD</text><rect x="302.4" y="602.8" width="23" height="13" rx="1.8" fill="#f2474f"/><path d="M310.4 615.5 L317.4 615.5 L313.9 620.3 Z" fill="#f2474f"/><text x="313.9" y="611.7" font-size="6.6" fill="#fff" fill-opacity="0.88" text-anchor="middle">-RD</text><rect x="328.1" y="598.6" width="23" height="13" rx="1.8" fill="#f2474f"/><path d="M336.1 611.3 L343.1 611.3 L339.6 616.1 Z" fill="#f2474f"/><text x="339.6" y="607.5" font-size="6.6" fill="#fff" fill-opacity="0.88" text-anchor="middle">-RD</text><rect x="468.5" y="589.5" width="23" height="13" rx="1.8" fill="#f2474f"/><path d="M476.5 602.2 L483.5 602.2 L480.0 607.0 Z" fill="#f2474f"/><text x="480.0" y="598.4" font-size="6.6" fill="#fff" fill-opacity="0.88" text-anchor="middle">-RD</text>
<!-- left axis labels -->
<clipPath id="c44"><rect x="0" y="86.2" width="83" height="20"/></clipPath>
<g font-size="12.1" fill="#2a2a2a" text-anchor="end">
<text x="74.3" y="90.4" clip-path="url(#c44)">4,400.00</text>
<text x="74.3" y="123.8">4,000.00</text>
<text x="74.3" y="156.8">3,600.00</text>
<text x="74.3" y="189.8">3,200.00</text>
<text x="74.3" y="222.8">2,800.00</text>
<text x="74.3" y="255.8">2,400.00</text>
<text x="74.3" y="288.8">2,000.00</text>
<text x="74.3" y="354.8">1,200.00</text>
<text x="74.3" y="387.8">800.00</text>
<text x="74.3" y="420.8">400.00</text>
<text x="74.3" y="453.8">0.00</text>
<text x="74.3" y="486.8">−400.00</text>
<text x="74.3" y="519.8">−800.00</text>
</g>
<!-- USD box -->
<rect x="13.6" y="60.8" width="65.6" height="22.5" rx="4" fill="#fffefc" stroke="#f6f4ee" stroke-width="0.8"/>
<text x="21.6" y="74.9" font-size="11" fill="#1e1e1e" textLength="22.2" lengthAdjust="spacingAndGlyphs">USD</text>
<!-- price labels -->
<rect x="21" y="282" width="61" height="28" rx="2" fill="#dc2060"/>
<text x="73.9" y="293.6" font-size="12.1" fill="#ffdbe6" text-anchor="end">1,936.73</text>
<text x="73.9" y="306.4" font-size="12.1" fill="#ffc4d6" text-anchor="end">6d 17h</text>
<rect x="83" y="282" width="51.5" height="15" rx="2" fill="#dc2060"/>
<text x="86.1" y="293.6" font-size="11.6" fill="#ffdbe6" textLength="44.3" lengthAdjust="spacingAndGlyphs">ETHUSD</text>
<rect x="21" y="311.3" width="61" height="14.6" rx="1.5" fill="#111"/>
<text x="73.9" y="322.9" font-size="12.1" fill="#e8e8e8" text-anchor="end">1,917.41</text>
<!-- right axis -->
<g font-size="12.3" fill="#2a2a2a">
<text x="934" y="558">2,000,000.00</text>
<text x="934" y="603.4">1,000,000.00</text>
<text x="934" y="649">0.00</text>
</g>
<rect x="925.8" y="661.5" width="81.7" height="15.5" rx="1.5" fill="#f2474f"/>
<text x="934" y="673.6" font-size="12.3" fill="#ffe0e0">−541,104.82</text>
<!-- time axis -->
<g font-size="12.3" fill="#2a2a2a" text-anchor="middle">
<text x="112.7" y="701">Jul</text><text x="262.5" y="701">Jul</text><text x="412.5" y="701">Jul</text><text x="564.5" y="701">Jul</text><text x="713.5" y="701">Jul</text><text x="863" y="701">Jul</text>
<g font-weight="bold" fill="#1a1a1a" letter-spacing="0.5"><text x="187.7" y="701">2023</text><text x="337.7" y="701">2024</text><text x="489.7" y="701">2025</text><text x="639.7" y="701">2026</text><text x="787.7" y="701">2027</text></g>
</g>
<circle cx="46" cy="696.4" r="8" fill="#f4f3ee"/><text x="46" y="700.2" font-size="10" fill="#555" text-anchor="middle">Z</text>
<circle cx="970.4" cy="696.7" r="8" fill="#f4f3ee"/><text x="970.6" y="700.6" font-size="10" fill="#555" text-anchor="middle">A</text>
<!-- logo -->
<g fill="#1a1a1a">
<path d="M10.9 729.1 H22.9 V742.8 H16.7 V734.7 H10.9 Z"/>
<circle cx="26.4" cy="731.9" r="2.75"/>
<path d="M30.2 729.1 H37.8 L33.4 742.8 H25.8 Z"/>
<text x="45.5" y="742.8" font-size="19" font-weight="bold" textLength="109.4" lengthAdjust="spacingAndGlyphs">TradingView</text>
</g>
</svg>
</body></html>
